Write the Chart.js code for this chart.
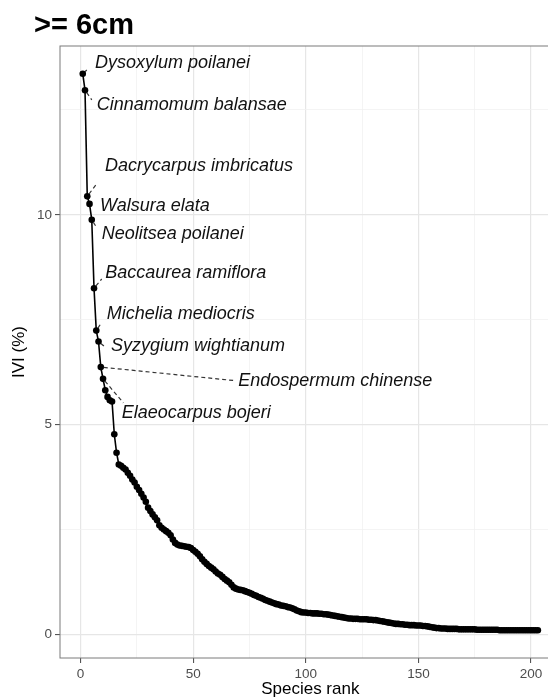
<!DOCTYPE html>
<html>
<head>
<meta charset="utf-8">
<script src="https://cdn.jsdelivr.net/npm/chart.js@4.4.1/dist/chart.umd.min.js"></script>
<style>
  html, body { margin: 0; padding: 0; background: #fff; overflow: hidden; }
  #wrap { width: 548px; height: 700px; overflow: hidden; }
</style>
</head>
<body>
<div id="wrap"><canvas id="iviChart" width="575" height="700"></canvas></div>
<script>
// IVI (%) of each species, sorted by rank (rank = position + 1)
const ivi = [
  13.36, 12.97, 10.44, 10.26, 9.88, 8.25, 7.24, 6.98, 6.37, 6.09,
  5.82, 5.66, 5.58, 5.55, 4.77, 4.33, 4.05, 4.02, 3.97, 3.93,
  3.85, 3.78, 3.69, 3.62, 3.52, 3.44, 3.35, 3.26, 3.16, 3.02,
  2.94, 2.86, 2.79, 2.72, 2.60, 2.54, 2.50, 2.46, 2.42, 2.36,
  2.26, 2.18, 2.14, 2.12, 2.11, 2.10, 2.09, 2.08, 2.06, 2.01,
  1.97, 1.92, 1.86, 1.79, 1.73, 1.68, 1.63, 1.59, 1.55, 1.50,
  1.45, 1.42, 1.37, 1.32, 1.28, 1.24, 1.18, 1.12, 1.09, 1.07,
  1.06, 1.05, 1.03, 1.01, 0.99, 0.97, 0.94, 0.92, 0.89, 0.87,
  0.85, 0.82, 0.80, 0.78, 0.76, 0.74, 0.72, 0.71, 0.69, 0.68,
  0.67, 0.65, 0.64, 0.62, 0.60, 0.57, 0.55, 0.53, 0.52, 0.52,
  0.51, 0.51, 0.50, 0.50, 0.50, 0.49, 0.49, 0.48, 0.48, 0.47,
  0.46, 0.45, 0.44, 0.43, 0.42, 0.41, 0.40, 0.39, 0.38, 0.38,
  0.37, 0.37, 0.37, 0.36, 0.36, 0.36, 0.36, 0.35, 0.35, 0.34,
  0.34, 0.33, 0.32, 0.31, 0.30, 0.29, 0.28, 0.27, 0.26, 0.25,
  0.25, 0.24, 0.24, 0.23, 0.23, 0.22, 0.22, 0.22, 0.21, 0.21,
  0.21, 0.20, 0.20, 0.19, 0.18, 0.17, 0.16, 0.15, 0.15, 0.14,
  0.14, 0.14, 0.13, 0.13, 0.13, 0.13, 0.13, 0.12, 0.12, 0.12,
  0.12, 0.12, 0.12, 0.12, 0.12, 0.11, 0.11, 0.11, 0.11, 0.11,
  0.11, 0.11, 0.11, 0.11, 0.11, 0.10, 0.10, 0.10, 0.10, 0.10,
  0.10, 0.10, 0.10, 0.10, 0.10, 0.10, 0.10, 0.10, 0.10, 0.10,
  0.10, 0.10, 0.10
];

// top 10 species (rank 1..10)
const topSpecies = [
  'Dysoxylum poilanei', 'Cinnamomum balansae', 'Dacrycarpus imbricatus',
  'Walsura elata', 'Neolitsea poilanei', 'Baccaurea ramiflora',
  'Michelia mediocris', 'Syzygium wightianum', 'Endospermum chinense',
  'Elaeocarpus bojeri'
];
const topRank = [1, 2, 3, 4, 5, 6, 7, 8, 9, 10];

// ticks (major + minor grid)
const xTicks = [0, 25, 50, 75, 100, 125, 150, 175, 200];
const xTickLabels = [0, 50, 100, 150, 200];
const yTicks = [0, 2.5, 5, 7.5, 10, 12.5];
const yTickLabels = [0, 5, 10];

// where the repelled labels sit (text start + end of the dashed segment), in axis units
const labelPos = [
  { tx: 6.4,  ty: 13.61, lx: 2.8,  ly: 13.45 },
  { tx: 7.2,  ty: 12.62, lx: 5.0,  ly: 12.74 },
  { tx: 10.9, ty: 11.17, lx: 7.2,  ly: 10.74 },
  { tx: 8.7,  ty: 10.20, lx: null, ly: null },
  { tx: 9.4,  ty: 9.55,  lx: 6.9,  ly: 9.72 },
  { tx: 11.0, ty: 8.62,  lx: 9.4,  ly: 8.47 },
  { tx: 11.6, ty: 7.64,  lx: 8.7,  ly: 7.38 },
  { tx: 13.5, ty: 6.88,  lx: 10.9, ly: 6.85 },
  { tx: 70.0, ty: 6.03,  lx: 68.1, ly: 6.05 },
  { tx: 18.3, ty: 5.28,  lx: 19.0, ly: 5.52 }
];

const FONT = "'Liberation Sans', Arial, Helvetica, sans-serif";

const points = ivi.map((v, i) => ({ x: i + 1, y: v }));

// khung panel, nhãn loài và tiêu đề
const panelPlugin = {
  id: 'panelExtras',
  afterDatasetsDraw(chart) {
    const { ctx, chartArea: a, scales: { x, y } } = chart;
    ctx.save();

    // labels with dashed segments
    ctx.font = 'italic 18px ' + FONT;
    ctx.fillStyle = '#111';
    ctx.textBaseline = 'middle';
    ctx.textAlign = 'left';
    topSpecies.forEach((name, i) => {
      const r = topRank[i];
      const p = labelPos[i];
      const px = x.getPixelForValue(r), py = y.getPixelForValue(ivi[r - 1]);
      if (p.lx !== null) {
        const ex = x.getPixelForValue(p.lx), ey = y.getPixelForValue(p.ly);
        const d = Math.hypot(ex - px, ey - py);
        const sx = px + (ex - px) / d * 3, sy = py + (ey - py) / d * 3;
        ctx.beginPath();
        ctx.setLineDash([4, 3]);
        ctx.strokeStyle = '#333';
        ctx.lineWidth = 1.2;
        ctx.moveTo(sx, sy);
        ctx.lineTo(ex, ey);
        ctx.stroke();
      }
      ctx.fillText(name, x.getPixelForValue(p.tx), y.getPixelForValue(p.ty));
    });

    // panel border
    ctx.setLineDash([]);
    ctx.strokeStyle = '#7a7a7a';
    ctx.lineWidth = 1;
    ctx.strokeRect(a.left, a.top, a.right - a.left, a.bottom - a.top);

    // title
    ctx.font = 'bold 29px ' + FONT;
    ctx.fillStyle = '#000';
    ctx.textBaseline = 'alphabetic';
    ctx.fillText('>= 6cm', 34, 34);
    ctx.restore();
  }
};

const ctx = document.getElementById('iviChart').getContext('2d');
const chart = new Chart(ctx, {
  type: 'line',
  data: {
    datasets: [{
      label: 'IVI (%)',
      data: points,
      borderColor: '#000',
      borderWidth: 1.6,
      backgroundColor: '#000',
      pointRadius: 3.3,
      pointBorderWidth: 0,
      pointBackgroundColor: '#000',
      fill: false,
      tension: 0
    }]
  },
  options: {
    responsive: false,
    devicePixelRatio: 1,
    animation: false,
    layout: { padding: { left: 0, right: 14.4, top: 46, bottom: 0 } },
    plugins: {
      legend: { display: false },
      tooltip: { enabled: false }
    },
    scales: {
      x: {
        type: 'linear',
        min: -9.1,
        max: 213.1,
        afterBuildTicks: s => { s.ticks = xTicks.map(v => ({ value: v })); },
        afterFit: s => { s.height = 42; },
        border: { display: false },
        grid: {
          color: c => xTickLabels.includes(c.tick.value) ? '#e6e6e6' : '#f1f1f1',
          lineWidth: c => xTickLabels.includes(c.tick.value) ? 1.2 : 0.8,
          tickColor: c => xTickLabels.includes(c.tick.value) ? '#444' : 'rgba(0,0,0,0)',
          tickLength: 5,
          tickWidth: 1
        },
        ticks: {
          autoSkip: false,
          maxRotation: 0,
          padding: 3,
          color: '#4d4d4d',
          font: { family: FONT, size: 13.5 },
          callback: v => xTickLabels.includes(v) ? String(v) : ''
        },
        title: {
          display: true,
          text: 'Species rank',
          color: '#000',
          font: { family: FONT, size: 17 },
          padding: { top: 0, bottom: 0 }
        }
      },
      y: {
        type: 'linear',
        min: -0.563,
        max: 14.023,
        afterBuildTicks: s => { s.ticks = yTicks.map(v => ({ value: v })); },
        afterFit: s => { s.width = 60; },
        border: { display: false },
        grid: {
          color: c => yTickLabels.includes(c.tick.value) ? '#e6e6e6' : '#f1f1f1',
          lineWidth: c => yTickLabels.includes(c.tick.value) ? 1.2 : 0.8,
          tickColor: c => yTickLabels.includes(c.tick.value) ? '#444' : 'rgba(0,0,0,0)',
          tickLength: 5,
          tickWidth: 1
        },
        ticks: {
          autoSkip: false,
          padding: 3,
          color: '#4d4d4d',
          font: { family: FONT, size: 13.5 },
          callback: v => yTickLabels.includes(v) ? String(v) : ''
        },
        title: {
          display: true,
          text: 'IVI (%)',
          color: '#000',
          font: { family: FONT, size: 17 },
          padding: { top: 9, bottom: 0 }
        }
      }
    }
  },
  plugins: [panelPlugin]
});
</script>
</body>
</html>
